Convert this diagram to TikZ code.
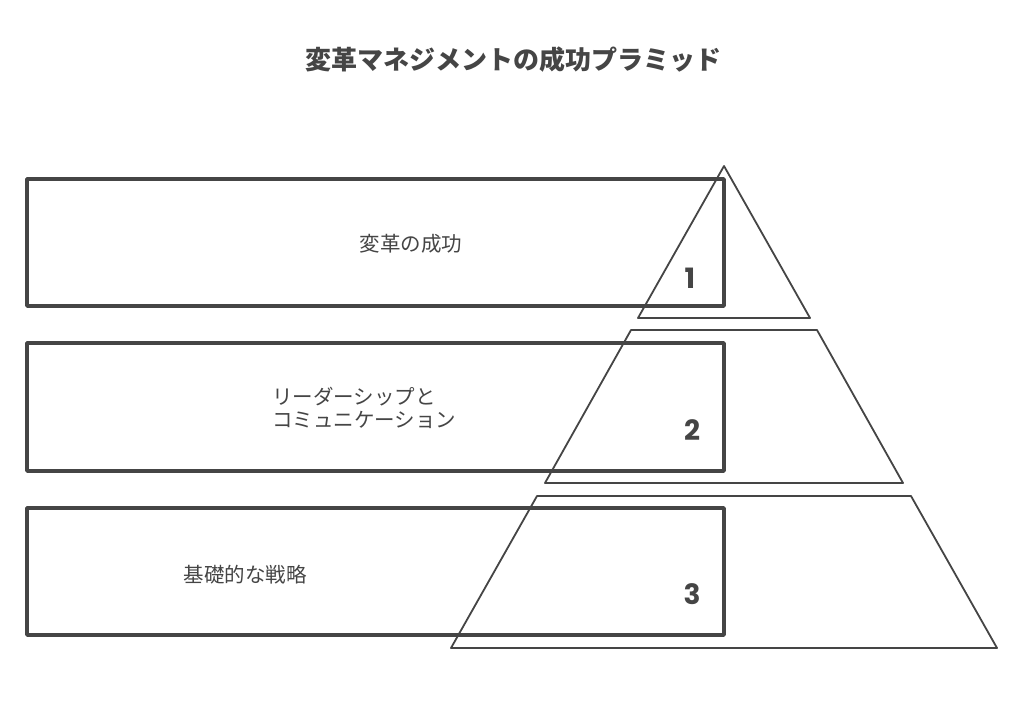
\documentclass[tikz,border=0pt]{standalone}
\usepackage{fontspec}
\newfontfamily\cjk{Noto Sans CJK JP}
\newfontfamily\numfont{Poppins}
\definecolor{ink}{HTML}{454545}
\begin{document}
\begin{tikzpicture}[x=1pt,y=-1pt,
  box/.style={draw=ink,line width=3.6pt,line join=round},
  tier/.style={draw=ink,line width=1.8pt,line join=round},
  lbl/.style={text=ink,font=\cjk\fontsize{20.5}{23.5}\selectfont,inner sep=0pt},
  num/.style={text=ink,font=\numfont\bfseries\fontsize{28}{30}\selectfont,inner sep=0pt}]
\useasboundingbox[fill=white] (0,0) rectangle (1024,701);
% title
\node[text=ink,font=\cjk\bfseries\fontsize{26}{30}\selectfont,inner sep=0pt] (title) at (513,60) {変革マネジメントの成功プラミッド};
% rectangles
\draw[box] (27,179) rectangle (724,306);
\draw[box] (27,343) rectangle (724,471);
\draw[box] (27,508) rectangle (724,635);
% pyramid tiers
\draw[tier] (724,166) -- (810,318) -- (638,318) -- cycle;
\draw[tier] (631,330) -- (817,330) -- (903,483) -- (545,483) -- cycle;
\draw[tier] (537,496) -- (911,496) -- (997,648) -- (451,648) -- cycle;
% labels
\node[lbl] (l1) at (411,244) {変革の成功};
\node[lbl,anchor=west,align=left] (l2) at (272,408) {リーダーシップと\\コミュニケーション};
\node[lbl] (l3) at (245,575) {基礎的な戦略};
% numbers
\node[num] (n1) at (690,278) {1};
\node[num] (n2) at (692,430) {2};
\node[num] (n3) at (692,594) {3};
\end{tikzpicture}
\end{document}
